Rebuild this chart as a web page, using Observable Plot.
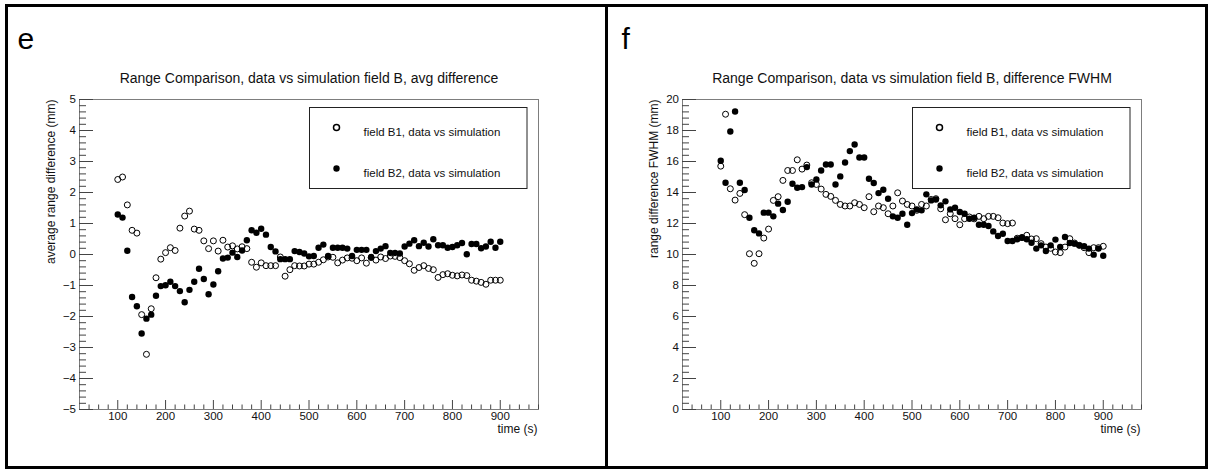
<!DOCTYPE html>
<html><head><meta charset="utf-8">
<script src="https://cdn.jsdelivr.net/npm/d3@7"></script>
<script src="https://cdn.jsdelivr.net/npm/@observablehq/plot@0.6"></script>
<style>
html,body{margin:0;padding:0;background:#fff;}
#root{position:relative;width:1209px;height:469px;overflow:hidden;background:#fff;}
.bar{position:absolute;background:#000;}
.panel{position:absolute;top:0;height:469px;}
.panel svg{display:block;background:transparent;max-width:none;}
</style></head><body>
<div id="root">
  <div class="panel" id="pe" style="left:0px;width:605px"></div>
  <div class="panel" id="pf" style="left:600px;width:609px"></div>
  <div class="bar" style="left:5px;top:4px;width:1203px;height:3px"></div>
  <div class="bar" style="left:5px;top:466px;width:1203px;height:3px"></div>
  <div class="bar" style="left:5px;top:4px;width:3px;height:465px"></div>
  <div class="bar" style="left:605px;top:4px;width:3px;height:465px"></div>
  <div class="bar" style="left:1205px;top:4px;width:3px;height:465px"></div>
</div>
<script>
// ---- data ----
const times = [100,110,120,130,140,150,160,170,180,190,200,210,220,230,240,250,260,270,280,290,
  300,310,320,330,340,350,360,370,380,390,400,410,420,430,440,450,460,470,480,490,
  500,510,520,530,540,550,560,570,580,590,600,610,620,630,640,650,660,670,680,690,
  700,710,720,730,740,750,760,770,780,790,800,810,820,830,840,850,860,870,880,890,900];

const avgB1 = [2.42,2.50,1.60,0.78,0.69,-1.94,-3.22,-1.75,-0.75,-0.15,
  0.06,0.22,0.13,0.85,1.24,1.40,0.82,0.78,0.44,0.19,
  0.44,0.11,0.46,0.24,0.28,0.18,0.25,0.19,-0.25,-0.41,
  -0.27,-0.36,-0.36,-0.36,-0.08,-0.70,-0.49,-0.36,-0.37,-0.37,
  -0.31,-0.31,-0.25,-0.17,-0.08,-0.09,-0.27,-0.18,-0.11,-0.12,
  -0.20,-0.11,-0.28,-0.10,-0.18,-0.08,-0.13,-0.05,-0.06,-0.10,
  -0.20,-0.30,-0.51,-0.42,-0.36,-0.45,-0.49,-0.74,-0.65,-0.62,
  -0.67,-0.69,-0.66,-0.68,-0.83,-0.86,-0.90,-0.96,-0.83,-0.83,-0.83];

const avgB2 = [1.29,1.19,0.12,-1.37,-1.67,-2.55,-2.07,-1.94,-1.33,-1.02,
  -0.99,-0.88,-1.02,-1.18,-1.54,-1.14,-0.88,-0.46,-0.79,-1.28,
  -0.97,-0.54,-0.13,-0.10,0.06,-0.08,0.13,0.46,0.78,0.70,
  0.83,0.64,0.24,0.10,-0.15,-0.15,-0.15,0.11,0.08,0.03,
  -0.06,-0.05,0.22,0.32,-0.05,0.22,0.22,0.22,0.19,-0.05,
  0.15,0.15,0.15,-0.08,0.11,0.19,0.27,0.05,0.05,0.03,
  0.26,0.35,0.46,0.27,0.38,0.26,0.49,0.30,0.30,0.22,
  0.24,0.30,0.37,0.01,0.34,0.34,0.20,0.26,0.41,0.22,0.41];

const fwhmB1 = [15.70,19.05,14.24,13.51,13.94,12.57,10.05,9.43,10.05,11.06,
  11.64,13.49,13.73,14.78,15.42,15.42,16.11,15.51,15.77,14.63,
  14.52,14.22,13.88,13.75,13.49,13.23,13.13,13.13,13.34,13.23,
  13.02,13.73,12.76,13.13,13.02,12.63,13.13,13.98,13.45,13.23,
  13.13,12.85,13.23,13.13,13.55,13.60,12.95,12.24,12.63,12.31,
  11.92,12.31,12.42,12.30,12.46,12.31,12.46,12.46,12.37,12.03,
  11.99,12.03,11.05,11.10,11.24,11.00,11.02,10.70,10.48,10.40,
  10.16,10.12,10.48,11.02,10.74,10.59,10.44,10.12,10.44,10.44,10.53];

const fwhmB2 = [16.05,14.63,17.94,19.23,14.63,14.16,12.37,11.56,11.36,12.70,
  12.70,12.46,13.28,12.87,13.40,14.56,14.31,14.35,15.64,14.52,
  14.84,15.42,15.81,15.81,14.52,15.04,15.94,16.67,17.10,16.26,
  16.26,14.89,14.61,13.96,14.18,13.60,12.46,12.37,12.63,11.92,
  12.67,12.91,12.85,13.88,13.49,13.55,13.17,13.43,12.91,13.02,
  12.74,12.63,12.31,12.37,11.92,11.92,11.84,11.49,11.19,11.34,
  10.87,10.87,10.98,11.08,10.98,10.76,10.38,10.59,10.23,10.59,
  10.96,10.48,11.13,10.74,10.70,10.59,10.53,10.38,9.99,10.38,9.92];

const xTicks = [100,200,300,400,500,600,700,800,900];
const xTickLabels = ["100","200","300","400","500","600","700","800","900"];
const yTicksE = [-5,-4,-3,-2,-1,0,1,2,3,4,5];
const yTickLabelsE = ["\u22125","\u22124","\u22123","\u22122","\u22121","0","1","2","3","4","5"];
const yTicksF = [0,2,4,6,8,10,12,14,16,18,20];
const yTickLabelsF = ["0","2","4","6","8","10","12","14","16","18","20"];
const seriesNames = ["field B1, data vs simulation","field B2, data vs simulation"];
const titleE = "Range Comparison, data vs simulation field B, avg difference";
const titleF = "Range Comparison, data vs simulation field B, difference FWHM";
const yLabelE = "average range difference (mm)";
const yLabelF = "range difference FWHM (mm)";
const xLabel = "time (s)";

// ---- drawing ----
const FONT = "'Liberation Sans', Arial, Helvetica, sans-serif";
function panel({width, marginLeft, yDomain, yTicks, yTickLabels, b1, b2, title, yLabel, letter, letterDx}) {
  const H = 469, mTop = 99, mBottom = 60;
  const fw = 459, fh = H - mTop - mBottom;
  const marginRight = width - marginLeft - fw;
  const rows1 = times.map((t, i) => ({t, v: b1[i]}));
  const rows2 = times.map((t, i) => ({t, v: b2[i]}));
  const xMinor = d3.range(40, 981, 20).filter(d => d % 100 !== 0);
  const step = yTicks[1] - yTicks[0];
  const yMinor = d3.range(yDomain[0], yDomain[1] + 1e-9, step / 5)
    .map(d => +d.toFixed(6)).filter(d => !yTicks.some(t => Math.abs(t - d) < 1e-6));
  return Plot.plot({
    width, height: H, marginLeft, marginRight, marginTop: mTop, marginBottom: mBottom,
    x: {domain: [20, 980], axis: null},
    y: {domain: yDomain, axis: null},
    style: {fontFamily: FONT, background: "transparent", color: "#111"},
    marks: [
      Plot.frame({stroke: "#7d7d7d", strokeWidth: 1}),
      Plot.tickX(xMinor, {x: d => d, insetTop: fh - 4.5, stroke: "#444"}),
      Plot.tickX(xTicks, {x: d => d, insetTop: fh - 9, stroke: "#444"}),
      Plot.tickY(yMinor, {y: d => d, insetRight: fw - 7, stroke: "#444"}),
      Plot.tickY(yTicks, {y: d => d, insetRight: fw - 14, stroke: "#444"}),
      Plot.text(xTicks, {x: d => d, frameAnchor: "bottom", dy: 10, text: (d, i) => xTickLabels[i], fontSize: 11.5, fill: "#111"}),
      Plot.text(yTicks, {y: d => d, frameAnchor: "left", dx: -3.5, textAnchor: "end", text: (d, i) => yTickLabels[i], fontSize: 11.5, fill: "#111"}),
      Plot.text([xLabel], {frameAnchor: "bottom-right", dx: -1, dy: 23, textAnchor: "end", text: d => d, fontSize: 12, fill: "#111"}),
      Plot.text([yLabel], {frameAnchor: "top-left", dx: -33, dy: 0, rotate: -90, textAnchor: "end", text: d => d, fontSize: 12, fill: "#111"}),
      Plot.text([title], {frameAnchor: "top", dy: -26, text: d => d, fontSize: 14, fill: "#111"}),
      Plot.text([letter], {frameAnchor: "top-left", dx: letterDx, dy: -51, lineAnchor: "bottom", textAnchor: "start", text: d => d, fontSize: 30, fill: "#000"}),
      Plot.dot(rows1, {x: "t", y: "v", r: 3, stroke: "#000", strokeWidth: 1, fill: "none"}),
      Plot.dot(rows2, {x: "t", y: "v", r: 3.2, fill: "#000", stroke: "none"}),
      Plot.frame({insetLeft: 230, insetRight: 11.5, insetTop: 8, insetBottom: 221, stroke: "#222", fill: "white"}),
      Plot.dot([0], {frameAnchor: "top-left", dx: 257, dy: 28, r: 3, stroke: "#000", fill: "none"}),
      Plot.dot([0], {frameAnchor: "top-left", dx: 257, dy: 69, r: 3.2, fill: "#000", stroke: "none"}),
      Plot.text([seriesNames[0]], {frameAnchor: "top-left", dx: 284, dy: 28, textAnchor: "start", text: d => d, fontSize: 11.5, fill: "#111"}),
      Plot.text([seriesNames[1]], {frameAnchor: "top-left", dx: 284, dy: 69, textAnchor: "start", text: d => d, fontSize: 11.5, fill: "#111"})
    ]
  });
}

document.getElementById("pe").append(panel({
  width: 605, marginLeft: 79, yDomain: [-5, 5], yTicks: yTicksE, yTickLabels: yTickLabelsE,
  b1: avgB1, b2: avgB2, title: titleE, yLabel: yLabelE, letter: "e", letterDx: -62
}));
document.getElementById("pf").append(panel({
  width: 609, marginLeft: 82, yDomain: [0, 20], yTicks: yTicksF, yTickLabels: yTickLabelsF,
  b1: fwhmB1, b2: fwhmB2, title: titleF, yLabel: yLabelF, letter: "f", letterDx: -61
}));
</script>
</body></html>
